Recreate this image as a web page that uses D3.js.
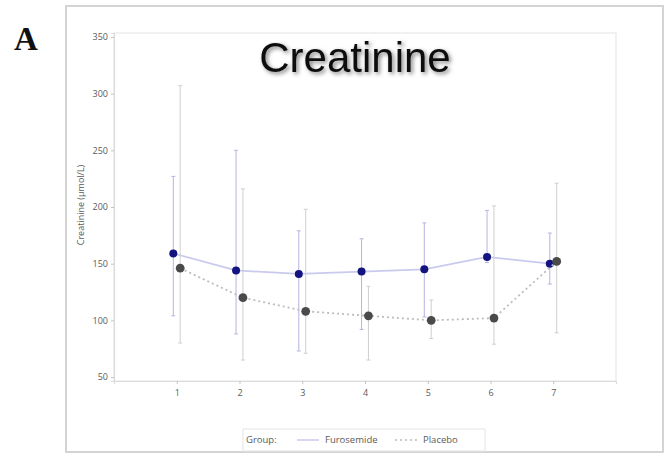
<!DOCTYPE html>
<html>
<head>
<meta charset="utf-8">
<script src="https://cdn.jsdelivr.net/npm/d3@7"></script>
<style>
  body { margin: 0; background: #fff; }
  svg { display: block; }
</style>
</head>
<body>
<div id="chart"></div>
<script>
// visits on the x axis
const visits = [1, 2, 3, 4, 5, 6, 7];
const yTicks = [50, 100, 150, 200, 250, 300, 350];

// Furosemide group: mean and error bar ends (µmol/L)
const furoMean = [159, 144, 141, 143, 145, 156, 150];
const furoHigh = [227, 250, 179, 172, 186, 197, 177];
const furoLow = [104, 88, 73, 92, 103, 151, 132];

// Placebo group
const placMean = [146, 120, 108, 104, 100, 102, 152];
const placHigh = [307, 216, 198, 130, 118, 201, 221];
const placLow = [80, 65, 71, 65, 84, 79, 89];

const width = 667;
const height = 453;

const svg = d3.select("#chart")
    .append("svg")
    .attr("width", width)
    .attr("height", height);

const defs = svg.append("defs");
const shadow = defs.append("filter")
    .attr("id", "shadow")
    .attr("x", "-10%").attr("y", "-20%")
    .attr("width", "130%").attr("height", "150%");
shadow.append("feDropShadow")
    .attr("dx", 2).attr("dy", 2)
    .attr("stdDeviation", 2)
    .attr("flood-color", "#000")
    .attr("flood-opacity", 0.5);

// outer figure frame
svg.append("rect")
    .attr("x", 66).attr("y", 6)
    .attr("width", 597).attr("height", 446)
    .attr("fill", "none")
    .attr("stroke", "#d4d4d4")
    .attr("stroke-width", 2);

// panel letter
svg.append("text")
    .attr("x", 14).attr("y", 50)
    .attr("font-family", "Liberation Serif, Times New Roman, serif")
    .attr("font-weight", "bold")
    .attr("font-size", 33)
    .attr("fill", "#111")
    .text("A");

const plot = { left: 114, top: 33, right: 616, bottom: 381 };

const x = d3.scaleLinear()
    .domain([0, 8])
    .range([plot.left, plot.right]);

const y = d3.scaleLinear()
    .domain([46.5, 353.5])
    .range([plot.bottom, plot.top]);

// plot wall
svg.append("rect")
    .attr("x", plot.left).attr("y", plot.top)
    .attr("width", plot.right - plot.left)
    .attr("height", plot.bottom - plot.top)
    .attr("fill", "none")
    .attr("stroke", "#ededed")
    .attr("stroke-width", 1.5);

const yAxis = svg.append("g")
    .attr("transform", `translate(${plot.left},0)`)
    .call(d3.axisLeft(y).tickValues(yTicks).tickSize(3).tickPadding(3));

const xAxis = svg.append("g")
    .attr("transform", `translate(0,${plot.bottom})`)
    .call(d3.axisBottom(x).tickValues(visits).tickSize(3).tickPadding(6));

[yAxis, xAxis].forEach(g => {
    g.select(".domain").attr("stroke", "#dcdcdc").attr("stroke-width", 1.2);
    g.selectAll(".tick line").attr("stroke", "#c4c4c4");
    g.selectAll(".tick text")
        .attr("fill", "#5a5a5a")
        .attr("font-family", "Open Sans, sans-serif")
        .attr("font-size", 9);
});

svg.append("text")
    .attr("transform", "translate(84,205) rotate(-90)")
    .attr("text-anchor", "middle")
    .attr("font-family", "Open Sans, sans-serif")
    .attr("font-size", 9)
    .attr("fill", "#5a5a5a")
    .text("Creatinine (µmol/L)");

// title
svg.append("text")
    .attr("x", 355).attr("y", 72)
    .attr("text-anchor", "middle")
    .attr("font-family", "Liberation Sans, Arial, sans-serif")
    .attr("font-size", 42)
    .attr("fill", "#111")
    .attr("filter", "url(#shadow)")
    .text("Creatinine");

const offset = 0.055;

const groups = [
    {
        name: "Furosemide", mean: furoMean, high: furoHigh, low: furoLow, dx: -offset,
        bar: "#b4b6e2", line: "#cacaee", dash: null, dot: "#141480", r: 4
    },
    {
        name: "Placebo", mean: placMean, high: placHigh, low: placLow, dx: offset,
        bar: "#cfcfcf", line: "#bdbdbd", dash: "2,3", dot: "#4a4a4a", r: 4.4
    }
];

groups.forEach(gr => {
    const pts = visits.map((v, i) => ({
        v: v + gr.dx, m: gr.mean[i], hi: gr.high[i], lo: gr.low[i]
    }));
    const g = svg.append("g");

    g.selectAll("line.err")
        .data(pts)
        .enter()
        .append("line")
        .attr("class", "err")
        .attr("x1", d => x(d.v)).attr("x2", d => x(d.v))
        .attr("y1", d => y(d.hi)).attr("y2", d => y(d.lo))
        .attr("stroke", gr.bar)
        .attr("stroke-width", 1);

    ["hi", "lo"].forEach(k => {
        g.selectAll("line.cap-" + k)
            .data(pts)
            .enter()
            .append("line")
            .attr("x1", d => x(d.v) - 2).attr("x2", d => x(d.v) + 2)
            .attr("y1", d => y(d[k])).attr("y2", d => y(d[k]))
            .attr("stroke", gr.bar)
            .attr("stroke-width", 1);
    });

    g.append("path")
        .datum(pts)
        .attr("d", d3.line().x(d => x(d.v)).y(d => y(d.m)))
        .attr("fill", "none")
        .attr("stroke", gr.line)
        .attr("stroke-width", 1.8)
        .attr("stroke-dasharray", gr.dash);

    g.selectAll("circle")
        .data(pts)
        .enter()
        .append("circle")
        .attr("cx", d => x(d.v))
        .attr("cy", d => y(d.m))
        .attr("r", gr.r)
        .attr("fill", gr.dot);
});

// legend
const leg = svg.append("g");
leg.append("rect")
    .attr("x", 243).attr("y", 429)
    .attr("width", 242).attr("height", 22)
    .attr("fill", "#fff")
    .attr("stroke", "#e4e4e4");

const legText = (tx, label) => leg.append("text")
    .attr("x", tx).attr("y", 443)
    .attr("font-family", "Open Sans, sans-serif")
    .attr("font-size", 9.5)
    .attr("fill", "#5a5a5a")
    .text(label);

legText(246, "Group:");
leg.append("line")
    .attr("x1", 297).attr("x2", 319).attr("y1", 440).attr("y2", 440)
    .attr("stroke", groups[0].line).attr("stroke-width", 1.5);
legText(325, groups[0].name);
leg.append("line")
    .attr("x1", 395).attr("x2", 418).attr("y1", 440).attr("y2", 440)
    .attr("stroke", groups[1].line).attr("stroke-width", 1.5)
    .attr("stroke-dasharray", groups[1].dash);
legText(423, groups[1].name);
</script>
</body>
</html>
